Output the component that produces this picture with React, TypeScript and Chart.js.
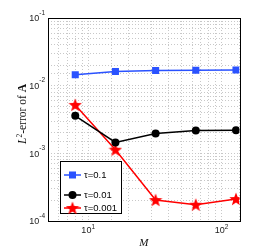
import React, { useEffect, useRef } from "react";
import { Chart, registerables } from "chart.js";

Chart.register(...registerables);

const mValues = [8, 16, 32, 64, 128];
const tau01 = [0.0145, 0.0162, 0.0168, 0.0169, 0.017];
const tau001 = [0.00358, 0.00145, 0.00197, 0.00218, 0.0022];
const tau0001 = [0.0052, 0.00113, 0.000204, 0.000174, 0.000211];
const seriesLabels = ["τ=0.1", "τ=0.01", "τ=0.001"];
const xTickValues = [10, 100];
const xTickExps = ["1", "2"];
const yTickValues = [0.1, 0.01, 0.001, 0.0001];
const yTickExps = ["-1", "-2", "-3", "-4"];

const BLUE = "#2a52ff";
const RED = "#ff0000";
const BLACK = "#000000";

function makeStar(size: number, color: string): HTMLCanvasElement {
  const c = document.createElement("canvas");
  c.width = size;
  c.height = size;
  const ctx = c.getContext("2d")!;
  const cx = size / 2;
  const cy = size / 2 + 0.5;
  const R = size / 2;
  const r = R * 0.42;
  ctx.beginPath();
  for (let i = 0; i < 10; i++) {
    const ang = -Math.PI / 2 + (i * Math.PI) / 5;
    const rad = i % 2 === 0 ? R : r;
    const px = cx + rad * Math.cos(ang);
    const py = cy + rad * Math.sin(ang);
    if (i === 0) ctx.moveTo(px, py);
    else ctx.lineTo(px, py);
  }
  ctx.closePath();
  ctx.fillStyle = color;
  ctx.fill();
  return c;
}

export default function App() {
  const ref = useRef<HTMLCanvasElement>(null);
  useEffect(() => {
    document.body.style.margin = "0";
    const star = makeStar(14, RED);
    const toXY = (ys: number[]) => mValues.map((x, i) => ({ x, y: ys[i] }));

    const overlay = {
      id: "overlay",
      afterDraw(chart: any) {
        const ctx = chart.ctx as CanvasRenderingContext2D;
        const a = chart.chartArea;
        const xs = chart.scales.x;
        const ys = chart.scales.y;
        ctx.save();
        // frame
        ctx.strokeStyle = "#000";
        ctx.lineWidth = 1;
        ctx.strokeRect(Math.round(a.left) + 0.5, Math.round(a.top) + 0.5, Math.round(a.right - a.left), Math.round(a.bottom - a.top));
        // y tick labels
        ctx.fillStyle = "#222";
        ctx.textBaseline = "middle";
        yTickValues.forEach((v, i) => {
          const py = ys.getPixelForValue(v);
          ctx.font = "6.5px 'Liberation Sans', Arial, sans-serif";
          ctx.textAlign = "right";
          const ew = ctx.measureText(yTickExps[i]).width;
          const xr = a.left - 3;
          ctx.fillText(yTickExps[i], xr, py - 5);
          ctx.font = "9px 'Liberation Sans', Arial, sans-serif";
          ctx.fillText("10", xr - ew, py + 1);
        });
        // x tick labels
        xTickValues.forEach((v, i) => {
          const px = xs.getPixelForValue(v);
          ctx.font = "9px 'Liberation Sans', Arial, sans-serif";
          const bw = ctx.measureText("10").width;
          ctx.font = "6.5px 'Liberation Sans', Arial, sans-serif";
          const ew = ctx.measureText(xTickExps[i]).width;
          const x0 = px - (bw + ew) / 2;
          ctx.textAlign = "left";
          ctx.font = "9px 'Liberation Sans', Arial, sans-serif";
          ctx.fillText("10", x0, a.bottom + 10);
          ctx.font = "6.5px 'Liberation Sans', Arial, sans-serif";
          ctx.fillText(xTickExps[i], x0 + bw, a.bottom + 6);
        });
        // x title
        ctx.fillStyle = "#111";
        ctx.font = "italic 11px 'Liberation Serif', 'Times New Roman', serif";
        ctx.textAlign = "center";
        ctx.fillText("M", (a.left + a.right) / 2, 243);
        // y title
        ctx.save();
        ctx.translate(22, 114);
        ctx.rotate(-Math.PI / 2);
        const parts = [
          { t: "L", f: "italic 11.5px 'Liberation Serif', serif", dy: 0 },
          { t: "2", f: "7.5px 'Liberation Serif', serif", dy: -4 },
          { t: "-error of ", f: "11.5px 'Liberation Serif', serif", dy: 0 },
          { t: "A", f: "bold 11.5px 'Liberation Serif', serif", dy: 0 },
        ];
        let total = 0;
        parts.forEach((p) => { ctx.font = p.f; total += ctx.measureText(p.t).width; });
        let cx = -total / 2;
        ctx.textAlign = "left";
        ctx.textBaseline = "alphabetic";
        parts.forEach((p) => {
          ctx.font = p.f;
          ctx.fillText(p.t, cx, 4 + p.dy);
          cx += ctx.measureText(p.t).width;
        });
        ctx.restore();
        // legend
        const lx = 60, ly = 161, lw = 61, lh = 52;
        ctx.fillStyle = "#fff";
        ctx.fillRect(lx, ly, lw, lh);
        ctx.strokeStyle = "#000";
        ctx.lineWidth = 1;
        ctx.strokeRect(lx + 0.5, ly + 0.5, lw, lh);
        const rows = [175, 195, 208];
        const colors = [BLUE, BLACK, RED];
        rows.forEach((ry, i) => {
          ctx.strokeStyle = colors[i];
          ctx.lineWidth = 1.5;
          ctx.beginPath();
          ctx.moveTo(64, ry);
          ctx.lineTo(81, ry);
          ctx.stroke();
          ctx.fillStyle = colors[i];
          if (i === 0) {
            ctx.fillRect(72.5 - 3.5, ry - 3.5, 7, 7);
          } else if (i === 1) {
            ctx.beginPath();
            ctx.arc(72.5, ry, 4, 0, Math.PI * 2);
            ctx.fill();
          } else {
            ctx.drawImage(star, 72.5 - 7, ry - 7);
          }
          ctx.fillStyle = "#000";
          ctx.font = "9.5px 'Liberation Sans', Arial, sans-serif";
          ctx.textAlign = "left";
          ctx.textBaseline = "middle";
          ctx.fillText(seriesLabels[i], 84, ry + 0.5);
        });
        ctx.restore();
      },
    };

    const chart = new Chart(ref.current!, {
      type: "line",
      data: {
        datasets: [
          {
            label: seriesLabels[0], data: toXY(tau01), borderColor: BLUE, backgroundColor: BLUE,
            borderWidth: 1.5, pointStyle: "rect", pointRadius: 5, pointBorderWidth: 0,
          },
          {
            label: seriesLabels[1], data: toXY(tau001), borderColor: BLACK, backgroundColor: BLACK,
            borderWidth: 1.5, pointStyle: "circle", pointRadius: 4, pointBorderWidth: 0,
          },
          {
            label: seriesLabels[2], data: toXY(tau0001), borderColor: RED, backgroundColor: RED,
            borderWidth: 1.5, pointStyle: star as any, pointRadius: 7, pointBorderWidth: 0,
          },
        ],
      },
      options: {
        animation: false,
        responsive: false,
        maintainAspectRatio: false,
        layout: { padding: { left: 48, right: 263 - 239.5, top: 18, bottom: 28 } },
        plugins: { legend: { display: false }, tooltip: { enabled: false } },
        scales: {
          x: {
            type: "logarithmic", min: 5, max: 136,
            ticks: { display: false },
            grid: { color: "#c8c8c8", lineWidth: 1, drawTicks: false },
            border: { display: false, dash: [1, 2] },
          },
          y: {
            type: "logarithmic", min: 0.0001, max: 0.1,
            ticks: { display: false },
            grid: { color: "#c8c8c8", lineWidth: 1, drawTicks: false },
            border: { display: false, dash: [1, 2] },
          },
        },
      },
      plugins: [overlay],
    });
    return () => chart.destroy();
  }, []);
  return (
    <div style={{ position: "absolute", left: 0, top: 0, width: 263, height: 249, background: "#fff" }}>
      <canvas ref={ref} width={263} height={249} style={{ width: 263, height: 249 }} />
    </div>
  );
}
